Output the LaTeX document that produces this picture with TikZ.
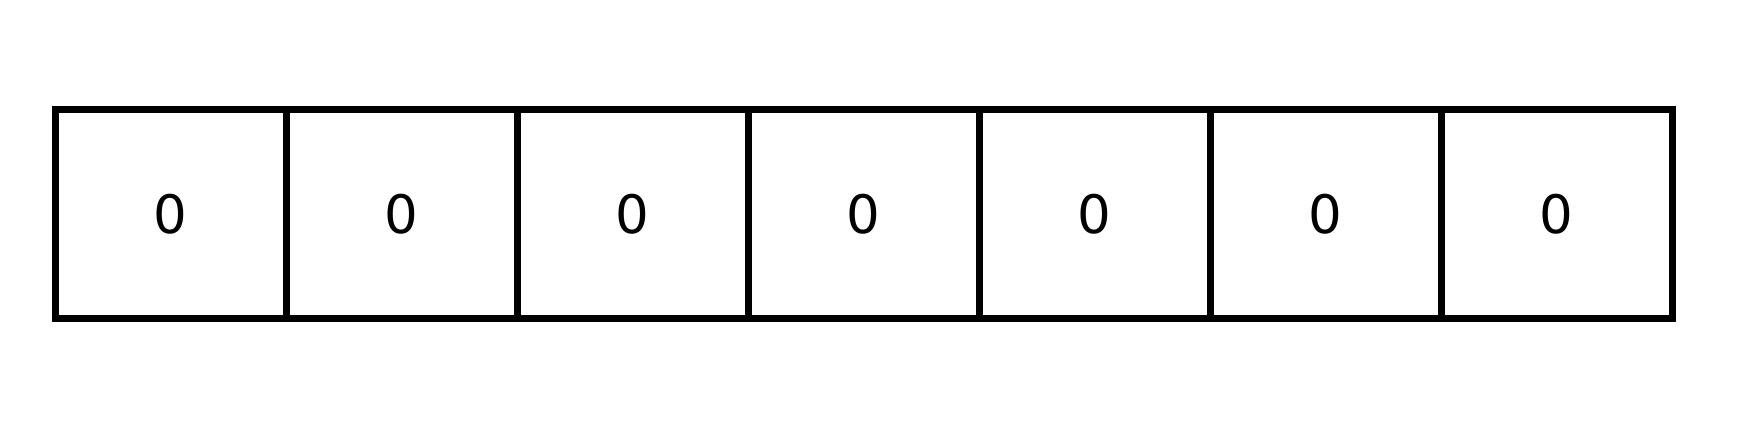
\documentclass[tikz,border=0pt]{standalone}
\usepackage{fontspec}
\setmainfont{DejaVu Sans}
\usetikzlibrary{positioning}

\begin{document}
\begin{tikzpicture}[x=1pt, y=1pt,
    cell/.style={draw=black, line width=7pt, minimum width=231pt, minimum height=208.5pt,
      inner sep=0pt, outer sep=0pt, font=\fontsize{53}{54}\selectfont}]

    % Fix the margins
    \useasboundingbox (0,0) rectangle (1739,434);

    % Row of seven cells, all holding 0
    \foreach \i in {1,...,7} {
      \node[cell] (cell\i) at ({170.5+231*(\i-1)}, 220.25) {0};
    }

\end{tikzpicture}
\end{document}
